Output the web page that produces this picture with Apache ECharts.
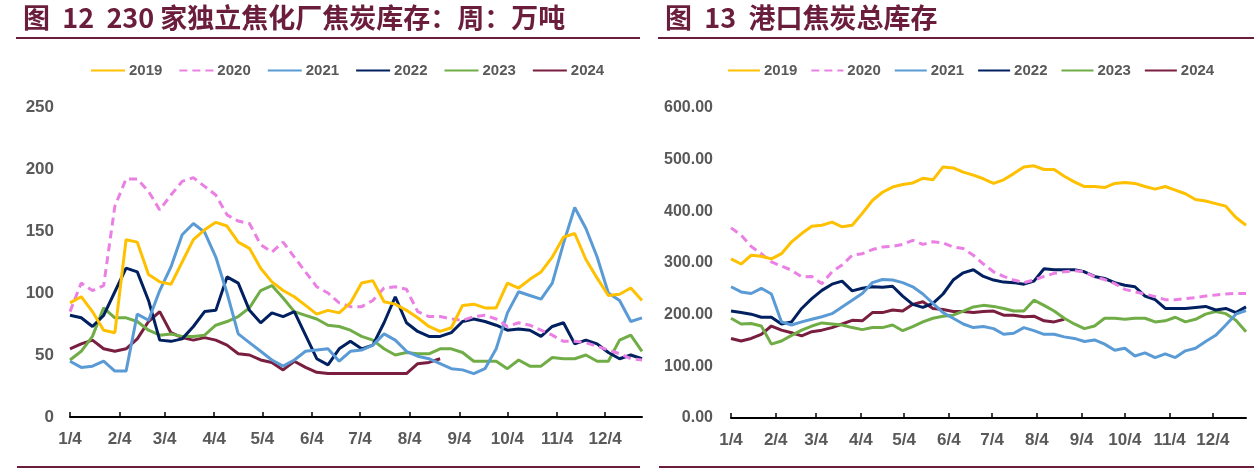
<!DOCTYPE html>
<html>
<head>
<meta charset="utf-8">
<script src="https://cdn.jsdelivr.net/npm/echarts@6/dist/echarts.min.js"></script>
<style>
html,body{margin:0;padding:0;background:#fff;}
#c{width:1254px;height:469px;}
</style>
</head>
<body>
<div id="c"></div>
<script>
// ---- data ----
const years = ['2019','2020','2021','2022','2023','2024'];
const colors = ['#FFC000','#EA80E4','#5B9BD5','#002060','#70AD47','#7A1E40'];
const monthTickDays = [0,31,59,90,120,151,181,212,243,273,304,334];
const monthLabels = ['1/4','2/4','3/4','4/4','5/4','6/4','7/4','8/4','9/4','10/4','11/4','12/4'];

// Chart 12: coking plant coke inventory (10k t), weekly
const left2019 = [92,97,85,70,68,143,141,115,109,107,125,143,151,157,154,141,136,120,109,102,97,90,83,86,84,92,108,110,93,91,86,80,73,69,72,90,91,88,88,108,104,111,117,129,145,148,127,112,98,99,104,94];
const left2020 = [85,108,102,106,170,192,192,182,167,179,190,193,186,179,163,158,156,139,133,141,129,117,105,100,92,89,89,94,104,105,103,85,81,81,79,78,81,82,79,73,76,74,70,66,61,61,60,57,54,51,47,46];
const left2021 = [45,40,41,45,37,37,83,78,102,121,147,156,149,129,100,67,60,53,46,41,46,53,54,55,45,53,54,58,67,62,53,49,47,43,39,38,35,39,55,84,101,98,95,108,140,169,152,129,100,94,77,80];
const left2022 = [82,80,73,82,101,120,117,94,62,61,63,73,85,86,113,108,86,76,84,81,85,66,47,42,55,61,55,58,76,97,76,69,65,65,68,77,79,77,74,70,71,70,65,73,76,59,62,59,52,47,50,47];
const left2023 = [46,53,65,88,80,80,77,70,66,67,65,65,66,74,77,81,88,102,106,96,85,82,79,74,73,70,65,62,55,50,52,51,51,55,55,52,45,45,45,39,46,41,41,48,47,47,50,45,45,62,66,53];
const left2024 = [55,59,62,55,53,55,63,77,85,68,64,62,64,62,58,51,50,46,44,38,45,40,36,35,35,35,35,35,35,35,35,43,44,47];

// Chart 13: port coke total inventory (10k t), weekly
const right2019 = [308,298,315,313,308,318,341,357,371,373,379,370,373,396,421,437,447,452,455,464,461,486,484,476,470,463,454,461,473,486,488,481,481,468,457,448,448,446,454,456,454,448,443,448,441,434,423,420,415,410,388,373];
const right2020 = [368,354,332,318,302,294,286,273,274,260,283,296,315,318,326,331,332,336,344,336,341,339,331,328,315,298,283,274,267,262,267,274,280,283,285,283,273,268,260,249,244,240,235,229,229,231,233,236,238,240,241,241];
const right2021 = [254,244,241,251,240,186,180,186,191,196,202,215,228,241,262,268,267,262,254,240,222,204,193,182,175,177,173,162,164,175,169,162,162,157,154,148,151,143,131,135,120,126,117,124,117,130,135,148,160,180,201,208];
const right2022 = [207,204,201,195,195,182,186,212,231,247,259,265,246,251,254,253,255,236,220,214,222,240,267,281,287,274,267,263,262,259,265,289,287,287,287,283,274,270,262,257,254,236,229,212,212,212,214,216,209,212,204,215];
const right2023 = [193,182,183,178,143,149,160,170,178,184,182,180,175,171,175,175,180,169,177,186,193,197,199,207,215,218,216,212,207,207,228,218,207,193,182,173,178,193,193,191,193,193,186,188,195,186,191,201,206,202,189,167];
const right2024 = [154,149,154,162,178,170,165,159,167,170,175,182,189,188,204,204,209,207,220,225,212,210,206,206,204,206,207,199,199,196,197,188,186,191];

// ---- build ----
const leftData = [left2019,left2020,left2021,left2022,left2023,left2024];
const rightData = [right2019,right2020,right2021,right2022,right2023,right2024];
const toPts = arr => arr.map((v,i)=>[i*7, v]);

const FONT = "'Liberation Sans',Arial,sans-serif";
const GREY = '#595959';
const MAROON = '#6B1D3C';

function makeSeries(dataSets, xi, yi, w) {
  return dataSets.map((arr, k) => ({
    name: years[k], type: 'line', xAxisIndex: xi, yAxisIndex: yi,
    data: toPts(arr), symbol: 'none', smooth: false,
    lineStyle: {color: colors[k], width: w, type: k === 1 ? [8,5] : 'solid'},
    itemStyle: {color: colors[k]},
    z: 10 - k
  }));
}

function xAxis(gi) {
  return {
    type: 'value', gridIndex: gi, min: 0, max: 357,
    axisLine: {show: true, lineStyle: {color: '#000', width: 2}},
    axisTick: {show: true, inside: true, length: 5, customValues: monthTickDays, lineStyle: {color: '#000', width: 1.5}},
    axisLabel: {customValues: monthTickDays, margin: 14, color: GREY, fontFamily: FONT, fontWeight: 'bold', fontSize: 17,
      formatter: v => monthLabels[monthTickDays.indexOf(Math.round(v))] || ''},
    splitLine: {show: false}
  };
}

function legend(left, w, gap) {
  return {data: years, left: left, top: 58, itemWidth: w, itemHeight: 3, itemGap: gap,
    itemStyle: {opacity: 0},
    textStyle: {color: GREY, fontFamily: FONT, fontWeight: 'bold', fontSize: 15, padding: [0,0,0,-1]}};
}

const chart = echarts.init(document.getElementById('c'), null, {renderer: 'canvas'});
chart.setOption({
  animation: false,
  backgroundColor: '#fff',
  graphic: [
    {type: 'text', left: 23, top: 4, style: {text: '图  12  230 家独立焦化厂焦炭库存：周：万吨', font: "bold 27px 'Noto Sans CJK SC'", fill: MAROON}},
    {type: 'text', left: 665, top: 4, style: {text: '图  13  港口焦炭总库存', font: "bold 27px 'Noto Sans CJK SC'", fill: MAROON}},
    {type: 'line', shape: {x1: 16, y1: 38, x2: 640, y2: 38}, style: {stroke: MAROON, lineWidth: 2}},
    {type: 'line', shape: {x1: 658, y1: 38, x2: 1254, y2: 38}, style: {stroke: MAROON, lineWidth: 2}},
    {type: 'line', shape: {x1: 17, y1: 467, x2: 640, y2: 467}, style: {stroke: MAROON, lineWidth: 2}},
    {type: 'line', shape: {x1: 659, y1: 467, x2: 1254, y2: 467}, style: {stroke: MAROON, lineWidth: 2}}
  ],
  legend: [legend(85, 34, 16), legend(722, 32, 13)],
  grid: [
    {left: 70, top: 107, width: 572, height: 310},
    {left: 731, top: 108, width: 515, height: 310}
  ],
  xAxis: [xAxis(0), xAxis(1)],
  yAxis: [
    {type: 'value', gridIndex: 0, min: 0, max: 250, interval: 50,
      axisLine: {show: false}, axisTick: {show: false}, splitLine: {show: false},
      axisLabel: {margin: 16, color: GREY, fontFamily: FONT, fontWeight: 'bold', fontSize: 17}},
    {type: 'value', gridIndex: 1, min: 0, max: 600, interval: 100,
      axisLine: {show: false}, axisTick: {show: false}, splitLine: {show: false},
      axisLabel: {margin: 18, color: GREY, fontFamily: FONT, fontWeight: 'bold', fontSize: 16, formatter: v => v.toFixed(2)}}
  ],
  series: makeSeries(leftData, 0, 0, 3).concat(makeSeries(rightData, 1, 1, 3))
});
</script>
</body>
</html>
